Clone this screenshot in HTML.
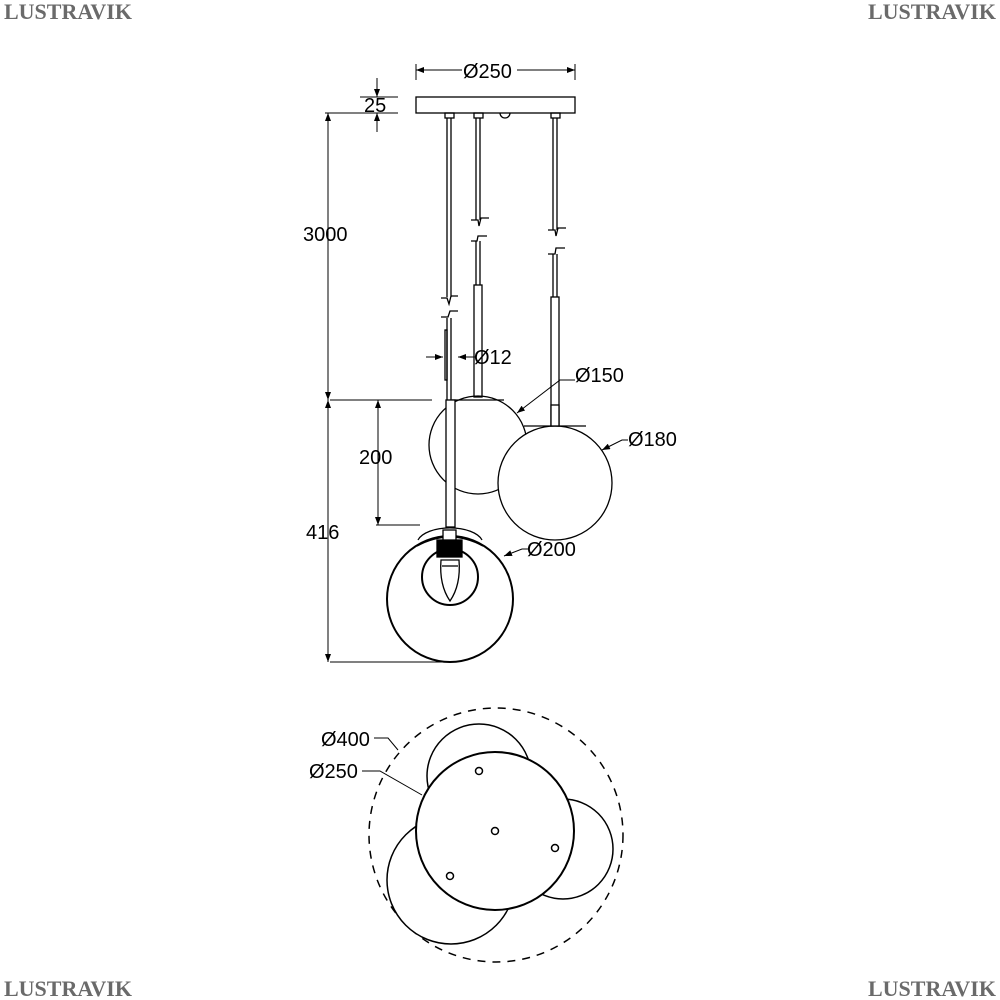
<!DOCTYPE html>
<html><head><style>body{margin:0;background:#fff}svg{display:block}</style></head><body>
<svg width="1000" height="1000" viewBox="0 0 1000 1000" xmlns="http://www.w3.org/2000/svg" font-family="Liberation Sans, sans-serif" fill="none" stroke="#000">
<defs><marker id="a" markerWidth="8" markerHeight="6" refX="8" refY="3" orient="auto-start-reverse" markerUnits="userSpaceOnUse"><path d="M0,0 L8,3 L0,6 Z" fill="#000" stroke="none"/></marker></defs>
<g fill="#6a6a6a" stroke="none" font-family="Liberation Serif, serif" font-size="22" font-weight="bold">
<text x="4" y="19">LUSTRAVIK</text><text x="868" y="19">LUSTRAVIK</text>
<text x="4" y="996">LUSTRAVIK</text><text x="868" y="996">LUSTRAVIK</text></g>
<g stroke-width="1">
<line x1="416" y1="64" x2="416" y2="80"/><line x1="575" y1="64" x2="575" y2="80"/>
<line x1="416" y1="70" x2="462" y2="70" marker-start="url(#a)"/><line x1="517" y1="70" x2="575" y2="70" marker-end="url(#a)"/>
<line x1="360" y1="97" x2="398" y2="97"/><line x1="325" y1="113" x2="398" y2="113"/>
<line x1="377" y1="78" x2="377" y2="97" marker-end="url(#a)"/><line x1="377" y1="132" x2="377" y2="113" marker-end="url(#a)"/>
<line x1="328" y1="113" x2="328" y2="400" marker-start="url(#a)" marker-end="url(#a)"/>
<line x1="328" y1="400" x2="328" y2="662" marker-start="url(#a)" marker-end="url(#a)"/>
<line x1="330" y1="400" x2="432" y2="400"/><line x1="330" y1="662" x2="450" y2="662"/>
<line x1="378" y1="400" x2="378" y2="525" marker-start="url(#a)" marker-end="url(#a)"/>
<line x1="376" y1="525" x2="420" y2="525"/>
<line x1="426" y1="357" x2="443" y2="357" marker-end="url(#a)"/><line x1="475" y1="357" x2="458" y2="357" marker-end="url(#a)"/>
</g>
<g stroke-width="1.3">
<rect x="416" y="97" width="159" height="16"/>
<rect x="445" y="113" width="9" height="5"/><rect x="474" y="113" width="9" height="5"/><rect x="551" y="113" width="9" height="5"/>
<path d="M500,113 a5,5 0 0 0 10,0"/>
<path d="M447,118 V297 M451,118 V297 M441,298 h6 l2,6 l2,-8 h7"/>
<path d="M441,317 h7 l2,-6 h8 M447,318 V400 M451,318 V400"/>
<rect x="445" y="330" width="2" height="50"/>
<path d="M476,118 V220 M480,118 V220 M471,220 h7 l1,6 l2,-8 h8"/>
<path d="M471,241 h6 l1,-5 h9 M476,241 V285 M480,241 V285"/>
<rect x="474" y="285" width="8" height="112"/>
<path d="M548,230 h7 l1,6 l2,-8 h8 M553,118 V230 M557,118 V230"/>
<path d="M548,254 h7 l1,-6 h9 M553,254 V297 M557,254 V297"/>
<rect x="551" y="297" width="8" height="130"/>
</g>
<g stroke-width="1.3">
<circle cx="478" cy="445" r="49"/>
<line x1="452" y1="400" x2="504" y2="400"/>
<rect x="446" y="400" width="9" height="127" fill="#fff"/>
<circle cx="555" cy="483" r="57" fill="#fff"/>
<line x1="524" y1="426" x2="586" y2="426"/>
<rect x="551" y="405" width="8" height="21" fill="#fff"/>
<path d="M418,540 A33,16 0 0 1 482,540"/>
<circle cx="450" cy="599" r="63" stroke-width="2"/>
<path d="M417,546 Q450,528 483,546" stroke-width="1.5"/>
<circle cx="450" cy="577" r="28" stroke-width="2"/>
<rect x="437" y="540" width="25" height="17" fill="#000"/>
<rect x="443" y="530" width="13" height="10" fill="#fff"/>
<path d="M441,560 Q439,585 450,601 Q461,585 459,560 Z"/>
<line x1="442" y1="566" x2="458" y2="566"/>
</g>
<g stroke-width="1">
<path d="M517,413 L560,380 H575" marker-start="url(#a)"/>
<path d="M602,450 L622,440 H628" marker-start="url(#a)"/>
<path d="M504,556 L522,549 H528" marker-start="url(#a)"/>
</g>
<g fill="#000" stroke="none" font-size="20">
<text x="463" y="78">Ø250</text><text x="364" y="112">25</text>
<text x="303" y="241">3000</text><text x="359" y="464">200</text><text x="306" y="539">416</text>
<text x="474" y="364">Ø12</text><text x="575" y="382">Ø150</text><text x="628" y="446">Ø180</text><text x="527" y="556">Ø200</text>
<text x="321" y="746">Ø400</text><text x="309" y="778">Ø250</text>
</g>
<circle cx="496" cy="835" r="127" stroke-width="1.5" stroke-dasharray="8,7"/>
<g stroke-width="1.5">
<circle cx="479" cy="776" r="52" fill="#fff"/>
<circle cx="563" cy="849" r="50" fill="#fff"/>
<circle cx="451" cy="880" r="64" fill="#fff"/>
<circle cx="495" cy="831" r="79" fill="#fff" stroke-width="2"/>
<circle cx="479" cy="771" r="3.5"/><circle cx="495" cy="831" r="3.5"/><circle cx="555" cy="848" r="3.5"/><circle cx="450" cy="876" r="3.5"/>
</g>
<g stroke-width="1">
<path d="M374,738 H388 L398,750"/><path d="M362,771 H380 L422,795"/>
</g>
</svg>
</body></html>
